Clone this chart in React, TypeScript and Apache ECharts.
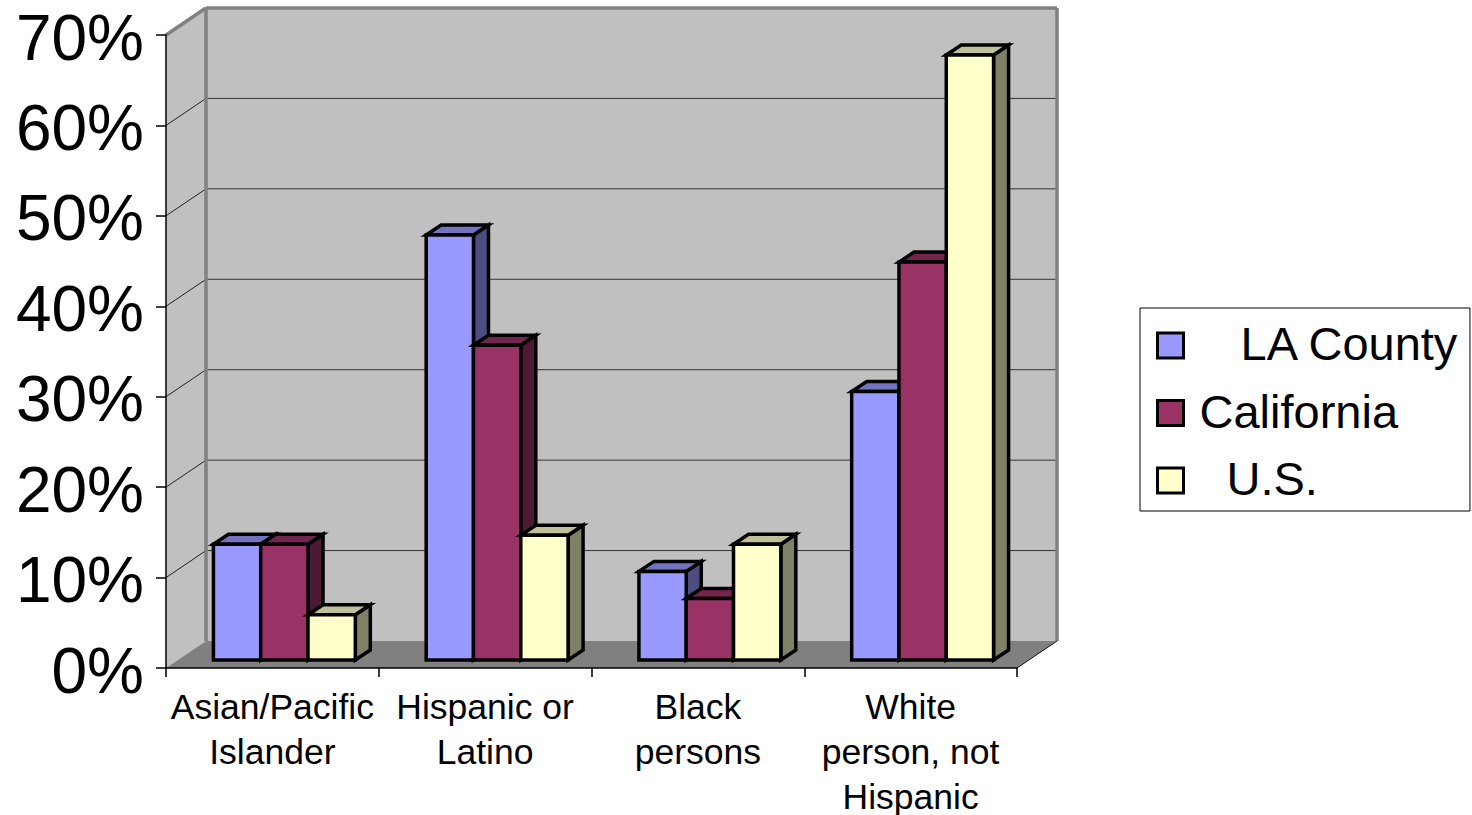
import React, { useEffect, useRef } from "react";
import * as echarts from "echarts";

const categories = [
  "Asian/Pacific\nIslander",
  "Hispanic or\nLatino",
  "Black\npersons",
  "White\nperson, not\nHispanic",
];
const laCounty = [12.8, 47, 9.8, 29.7];
const california = [12.8, 34.8, 6.8, 44];
const unitedStates = [5, 13.8, 12.8, 66.9];
const yTicks = [0, 10, 20, 30, 40, 50, 60, 70];

const FONT = "'Liberation Sans', Arial, sans-serif";

// Depth of the plot box and of each column, as a screen offset.
const WALL_DX = 40;
const WALL_DY = -27;
const BAR_DX = 15;
const BAR_DY = -10;
const BAR_SHIFT_X = 12;
const BAR_SHIFT_Y = -8;
const BAR_WIDTH_RATIO = 0.2223;

const seriesDefs = [
  { key: "la", name: "LA County", data: laCounty, front: "#9999FF", top: "#7373BF", side: "#4D4D80", pad: 52 },
  { key: "ca", name: "California", data: california, front: "#993366", top: "#73264D", side: "#4D1A33", pad: 11 },
  { key: "us", name: "U.S.", data: unitedStates, front: "#FFFFCC", top: "#BFBF99", side: "#808066", pad: 38 },
];

function poly(points: number[][], fill: string, stroke: string, lineWidth: number) {
  return {
    type: "polygon",
    shape: { points },
    style: { fill, stroke, lineWidth, lineJoin: "miter" },
    silent: true,
  };
}

function line(a: number[], b: number[], stroke: string, lineWidth: number) {
  return {
    type: "line",
    shape: { x1: a[0], y1: a[1], x2: b[0], y2: b[1] },
    style: { stroke, lineWidth },
    silent: true,
  };
}

// Back wall, side wall, floor and the gridlines that wrap around them.
function renderWalls(params: any, api: any) {
  const { x, width } = params.coordSys;
  const right = x + width;
  const yOf = (v: number) => api.coord([0, v])[1];
  const y0 = yOf(yTicks[0]);
  const yTop = yOf(yTicks[yTicks.length - 1]);
  const children: any[] = [
    poly(
      [[x, yTop], [x + WALL_DX, yTop + WALL_DY], [x + WALL_DX, y0 + WALL_DY], [x, y0]],
      "#C0C0C0", "none", 0,
    ),
    poly(
      [[x + WALL_DX, yTop + WALL_DY], [right + WALL_DX, yTop + WALL_DY], [right + WALL_DX, y0 + WALL_DY], [x + WALL_DX, y0 + WALL_DY]],
      "#C0C0C0", "none", 0,
    ),
    poly(
      [[x, y0], [x + WALL_DX, y0 + WALL_DY], [right + WALL_DX, y0 + WALL_DY], [right, y0]],
      "#808080", "none", 0,
    ),
  ];
  yTicks.slice(1, -1).forEach((t) => {
    const y = yOf(t);
    children.push(line([x, y], [x + WALL_DX, y + WALL_DY], "#222222", 1));
    children.push(line([x + WALL_DX, y + WALL_DY], [right + WALL_DX, y + WALL_DY], "#333333", 1));
  });
  children.push(line([x, yTop], [x + WALL_DX, yTop + WALL_DY], "#808080", 3.5));
  children.push(line([x + WALL_DX, yTop + WALL_DY], [x + WALL_DX, y0 + WALL_DY], "#808080", 3.5));
  children.push(line([x + WALL_DX, yTop + WALL_DY], [right + WALL_DX, yTop + WALL_DY], "#808080", 3.5));
  children.push(line([right + WALL_DX, yTop + WALL_DY], [right + WALL_DX, y0 + WALL_DY], "#808080", 3.5));
  children.push(line([right, y0], [right + WALL_DX, y0 + WALL_DY], "#111111", 1));
  return { type: "group", children };
}

// One extruded column: side and top first, front face over them.
function makeColumnRenderer(index: number, front: string, top: string, side: string) {
  return (_params: any, api: any) => {
    const cat = api.value(0);
    const val = api.value(1);
    const slot = api.size([1, 0])[0] * BAR_WIDTH_RATIO;
    const [cx, cy] = api.coord([cat, val]);
    const base = api.coord([cat, 0])[1] + BAR_SHIFT_Y;
    const left = cx + BAR_SHIFT_X + (index - 1.5) * slot;
    const right = left + slot;
    const tp = cy + BAR_SHIFT_Y;
    const lw = 3.5;
    return {
      type: "group",
      children: [
        poly([[right, tp], [right + BAR_DX, tp + BAR_DY], [right + BAR_DX, base + BAR_DY], [right, base]], side, "#000", lw),
        poly([[left, tp], [left + BAR_DX, tp + BAR_DY], [right + BAR_DX, tp + BAR_DY], [right, tp]], top, "#000", lw),
        poly([[left, tp], [right, tp], [right, base], [left, base]], front, "#000", lw),
      ],
    };
  };
}

// Legend labels carry their own indent and sit slightly above the swatch centre.
const legendRich: Record<string, any> = {};
seriesDefs.forEach((s) => {
  legendRich[s.key] = {
    fontFamily: FONT,
    fontSize: 47,
    lineHeight: 47,
    color: "#000",
    padding: [0, 0, 4, s.pad],
  };
});

export default function App() {
  const ref = useRef<HTMLDivElement>(null);

  useEffect(() => {
    document.body.style.margin = "0";
    const chart = echarts.init(ref.current!, undefined, { renderer: "svg" });
    chart.setOption({
      animation: false,
      backgroundColor: "#FFFFFF",
      textStyle: { fontFamily: FONT, color: "#000" },
      grid: { left: 166, top: 35, width: 851, height: 633, containLabel: false, outerBoundsMode: "none" },
      xAxis: {
        type: "category",
        data: categories,
        z: 2,
        axisLine: { show: true, lineStyle: { color: "#000", width: 1.5 } },
        axisTick: { show: true, length: 9, alignWithLabel: false, lineStyle: { color: "#000", width: 1.5 } },
        axisLabel: {
          interval: 0,
          fontSize: 35.5,
          lineHeight: 45,
          color: "#000",
          fontFamily: FONT,
          margin: 16,
        },
        splitLine: { show: false },
      },
      yAxis: {
        type: "value",
        min: 0,
        max: 70,
        interval: 10,
        z: 2,
        axisLine: { show: true, lineStyle: { color: "#000", width: 1.5 } },
        axisTick: { show: true, length: 10, lineStyle: { color: "#000", width: 1.5 } },
        axisLabel: {
          formatter: (v: number) => `{tick|${v}%}`,
          margin: 22,
          rich: {
            tick: {
              fontSize: 64,
              lineHeight: 64,
              color: "#000",
              fontFamily: FONT,
              padding: [5, 0, 0, 0],
            },
          },
        },
        splitLine: { show: false },
      },
      legend: {
        orient: "vertical",
        left: 1140,
        top: 308,
        padding: [12, 10, 5, 16],
        itemWidth: 26,
        itemHeight: 25,
        itemGap: 16.5,
        backgroundColor: "#FFFFFF",
        borderColor: "#000",
        borderWidth: 1,
        selectedMode: false,
        icon: "rect",
        formatter: (name: string) => {
          const def = seriesDefs.find((s) => s.name === name);
          return `{${def ? def.key : "la"}|${name}}`;
        },
        textStyle: { fontFamily: FONT, fontSize: 47, color: "#000", rich: legendRich },
        data: seriesDefs.map((s) => ({
          name: s.name,
          icon: "rect",
          itemStyle: { color: s.front, borderColor: "#000", borderWidth: 3 },
        })),
      },
      series: [
        {
          type: "custom",
          name: "walls",
          z: 1,
          clip: false,
          silent: true,
          data: [[0, 0]],
          encode: { x: 0, y: 1 },
          renderItem: renderWalls,
        },
        ...seriesDefs.map((s, i) => ({
          type: "custom",
          name: s.name,
          z: 3 + i,
          clip: false,
          silent: true,
          itemStyle: { color: s.front },
          data: s.data.map((v, c) => [c, v]),
          encode: { x: 0, y: 1 },
          renderItem: makeColumnRenderer(i, s.front, s.top, s.side),
        })),
      ],
    });
    return () => chart.dispose();
  }, []);

  return <div ref={ref} style={{ width: 1472, height: 815 }} />;
}
